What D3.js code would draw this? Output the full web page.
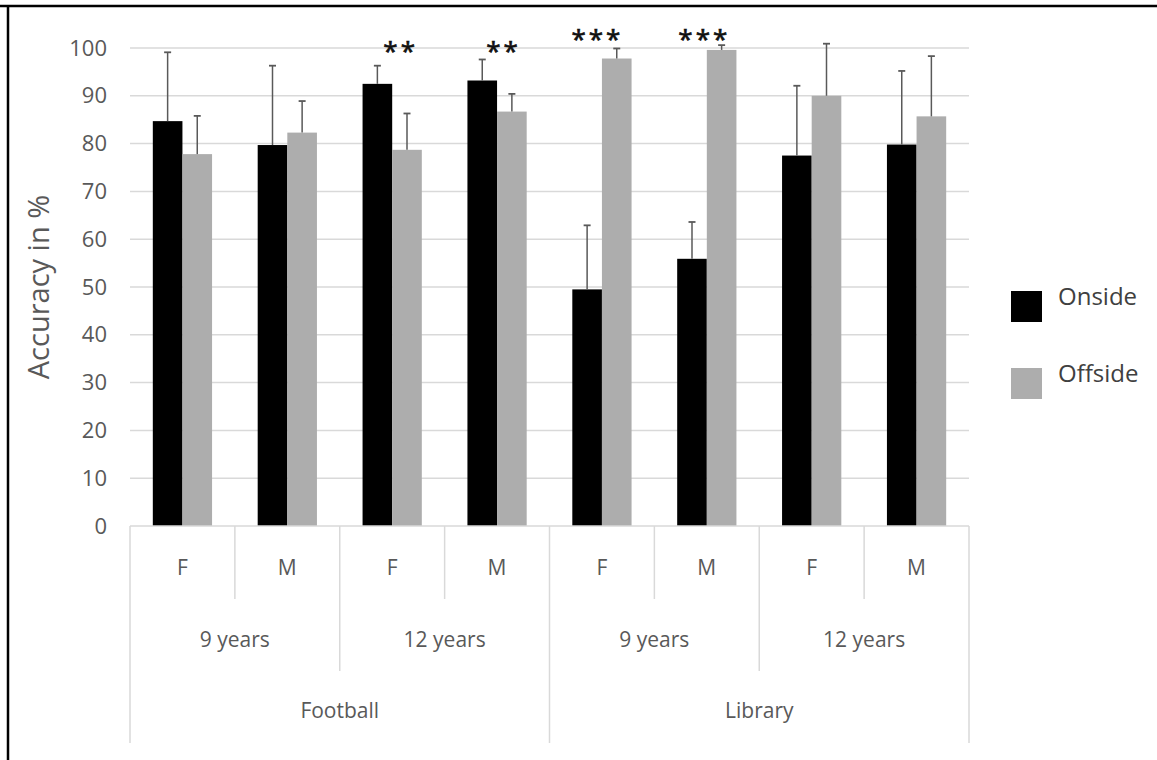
<!DOCTYPE html>
<html>
<head>
<meta charset="utf-8">
<script src="https://cdn.jsdelivr.net/npm/d3@7"></script>
<style>
  html, body { margin: 0; padding: 0; background: #fff; }
  svg { display: block; }
  text { font-family: "Open Sans", "Noto Sans", sans-serif; }
</style>
</head>
<body>
<svg id="chart" width="1157" height="760"></svg>
<script>
// Categories: setting > age > sex
const settings = ["Football", "Library"];
const ages = ["9 years", "12 years"];
const sexes = ["F", "M"];
const seriesNames = ["Onside", "Offside"];
const seriesColors = ["#000000", "#adadad"];

// Mean accuracy (%) per category, in order F/M x 9/12 years x Football/Library
const onside  = [84.7, 79.7, 92.5, 93.2, 49.5, 55.9, 77.5, 79.8];
const offside = [77.8, 82.3, 78.7, 86.7, 97.8, 99.6, 90.0, 85.7];
// Upper error-bar ends (mean + SD)
const onsideErr  = [99.1, 96.3, 96.3, 97.6, 62.9, 63.6, 92.1, 95.2];
const offsideErr = [85.8, 88.9, 86.3, 90.4, 99.9, 100.6, 100.9, 98.3];
// Significance markers per category
const signif = ["", "", "**", "**", "***", "***", "", ""];
const yTicks = [0, 10, 20, 30, 40, 50, 60, 70, 80, 90, 100];

const categories = [];
settings.forEach(s => ages.forEach(a => sexes.forEach(x => categories.push({setting: s, age: a, sex: x}))));
const data = categories.map((c, i) => ({
  ...c, idx: i,
  values: [
    {series: 0, value: onside[i], err: onsideErr[i]},
    {series: 1, value: offside[i], err: offsideErr[i]}
  ],
  sig: signif[i]
}));

const svg = d3.select("#chart");
const plot = {left: 130, right: 969, top: 48, bottom: 526};

const x = d3.scaleBand().domain(d3.range(categories.length)).range([plot.left, plot.right]).paddingInner(0).paddingOuter(0);
const y = d3.scaleLinear().domain([0, 100]).range([plot.bottom, plot.top]);
const inner = d3.scaleBand().domain([0, 1]).range([0, x.bandwidth()]).paddingInner(0).paddingOuter(0.77);

// Outer frame (top and left edges)
svg.append("line").attr("x1", 0).attr("x2", 1157).attr("y1", 6).attr("y2", 6).attr("stroke", "#000").attr("stroke-width", 2.5);
svg.append("line").attr("x1", 8).attr("x2", 8).attr("y1", 5).attr("y2", 760).attr("stroke", "#000").attr("stroke-width", 2.5);

// Gridlines
svg.append("g").selectAll("line").data(yTicks.filter(d => d > 0)).join("line")
  .attr("x1", plot.left).attr("x2", plot.right)
  .attr("y1", d => y(d)).attr("y2", d => y(d))
  .attr("stroke", "#d9d9d9").attr("stroke-width", 1.5);

// Y axis tick labels
const yAxis = d3.axisLeft(y).tickValues(yTicks).tickSize(0).tickPadding(23);
const yg = svg.append("g").attr("transform", `translate(${plot.left},0)`).call(yAxis);
yg.select(".domain").remove();
yg.selectAll("text").attr("font-size", 22).attr("fill", "#595959").style("font-family", '"Open Sans", sans-serif');

// Y axis title
svg.append("text")
  .attr("transform", `translate(49,${(plot.top + plot.bottom) / 2}) rotate(-90)`)
  .attr("text-anchor", "middle").attr("font-size", 29).attr("fill", "#595959")
  .text("Accuracy in %");

// Bars
const groups = svg.append("g").selectAll("g").data(data).join("g")
  .attr("transform", d => `translate(${x(d.idx)},0)`);
groups.selectAll("rect").data(d => d.values).join("rect")
  .attr("x", d => inner(d.series)).attr("width", inner.bandwidth())
  .attr("y", d => y(d.value)).attr("height", d => y(0) - y(d.value))
  .attr("fill", d => seriesColors[d.series]);

// Error bars (upper only)
const cap = 3.5;
groups.selectAll("g.err").data(d => d.values).join("g").attr("class", "err")
  .each(function(d) {
    const g = d3.select(this);
    const cx = inner(d.series) + inner.bandwidth() / 2;
    g.append("line").attr("x1", cx).attr("x2", cx).attr("y1", y(d.value)).attr("y2", y(d.err))
      .attr("stroke", "#595959").attr("stroke-width", 1.5);
    g.append("line").attr("x1", cx - cap).attr("x2", cx + cap).attr("y1", y(d.err)).attr("y2", y(d.err))
      .attr("stroke", "#595959").attr("stroke-width", 1.8);
  });

// Significance asterisks, nudged horizontally per category
const sigNudge = [0, 0, 7, 5, -6, -4, 0, 0];
const starSpacing = 3;
svg.append("g").selectAll("text").data(data.filter(d => d.sig)).join("text")
  .attr("x", d => x(d.idx) + x.bandwidth() / 2 + sigNudge[d.idx] + starSpacing / 2)
  .attr("y", d => (d.sig.length === 2 ? 60 : 48))
  .attr("text-anchor", "middle").attr("font-size", 26).attr("fill", "#111")
  .attr("letter-spacing", starSpacing)
  .attr("stroke", "#111").attr("stroke-width", 0.7)
  .text(d => d.sig);

// Hierarchical category axis
const axisColor = "#d9d9d9";
const axisG = svg.append("g");
// boundary lines at each category edge; depth depends on hierarchy level
d3.range(categories.length + 1).forEach(i => {
  const xp = i < categories.length ? x(i) : plot.right;
  let yEnd = 599;
  if (i % 2 === 0) yEnd = 671;
  if (i % 4 === 0) yEnd = 743;
  axisG.append("line").attr("x1", xp).attr("x2", xp).attr("y1", plot.bottom).attr("y2", yEnd)
    .attr("stroke", axisColor).attr("stroke-width", 1.5);
});
axisG.append("line").attr("x1", plot.left).attr("x2", plot.right).attr("y1", plot.bottom).attr("y2", plot.bottom)
  .attr("stroke", axisColor).attr("stroke-width", 1.5);

// Level labels
const sexLabels = data.map(d => ({label: d.sex, cx: x(d.idx) + x.bandwidth() / 2}));
const ageLabels = d3.range(categories.length / 2).map(j => ({label: data[j * 2].age, cx: x(j * 2) + x.bandwidth()}));
const settingLabels = d3.range(categories.length / 4).map(j => ({label: data[j * 4].setting, cx: x(j * 4) + x.bandwidth() * 2}));
[[sexLabels, 575], [ageLabels, 647], [settingLabels, 718]].forEach(([labels, ly]) => {
  axisG.append("g").selectAll("text").data(labels).join("text")
    .attr("x", d => d.cx).attr("y", ly).attr("text-anchor", "middle")
    .attr("font-size", 21).attr("fill", "#595959").text(d => d.label);
});

// Legend
const legend = svg.append("g").selectAll("g").data(seriesNames).join("g")
  .attr("transform", (d, i) => `translate(1011,${291 + i * 77})`);
legend.append("rect").attr("width", 31).attr("height", 31).attr("fill", (d, i) => seriesColors[i]);
legend.append("text").attr("x", 47).attr("y", 14).attr("font-size", 24).attr("fill", "#404040").text(d => d);
</script>
</body>
</html>
